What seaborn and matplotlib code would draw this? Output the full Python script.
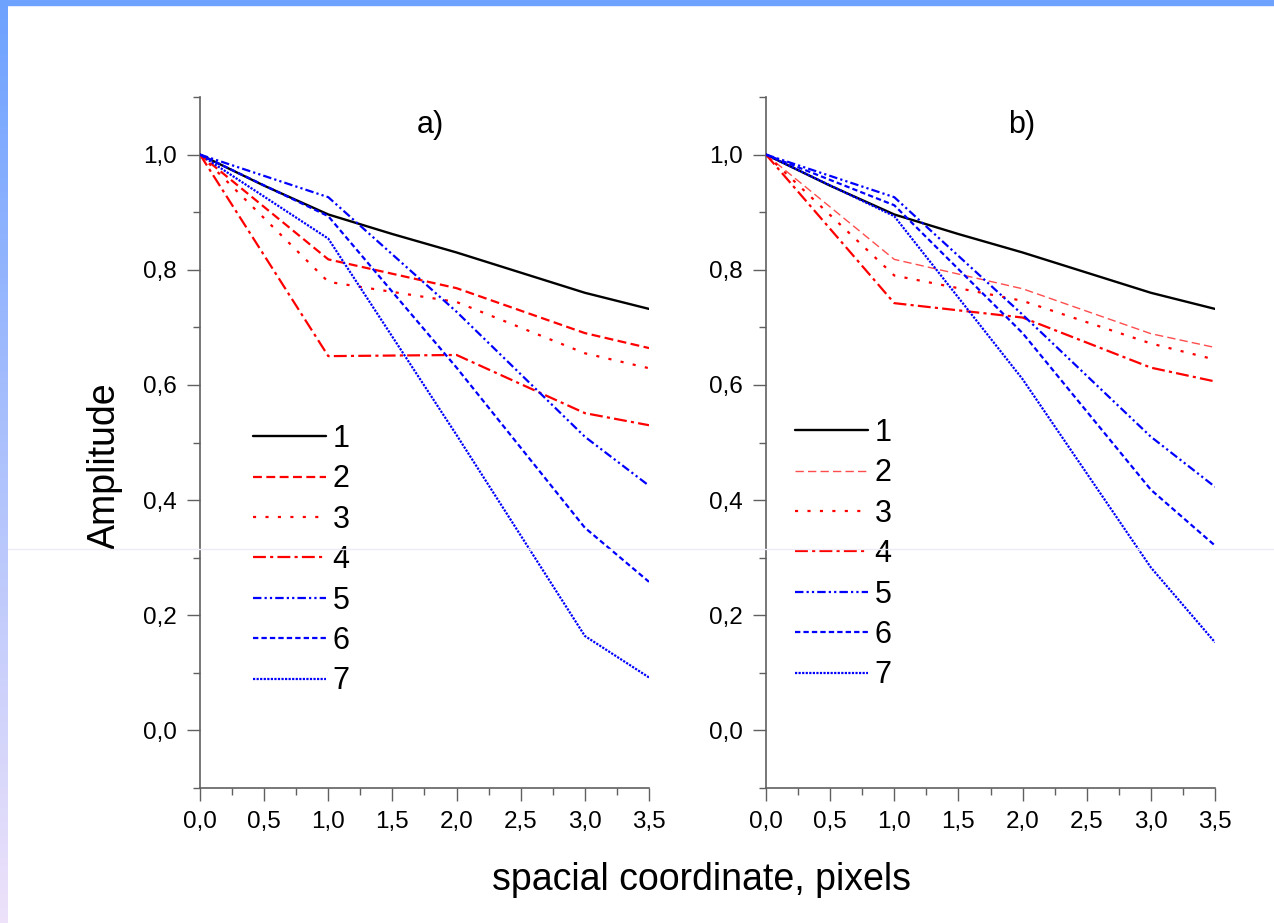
import numpy as np
import pandas as pd
import matplotlib
matplotlib.use("Agg")
import matplotlib.pyplot as plt
from matplotlib.lines import Line2D
from matplotlib.ticker import FixedLocator
import seaborn as sns

# ---------------- data ----------------
x_ref = [0.0, 0.5, 1.0, 1.5, 2.0, 2.5, 3.0, 3.5]
y_ref = [1.0, 0.946, 0.896, 0.862, 0.830, 0.795, 0.760, 0.732]

x_pts = [0.0, 1.0, 2.0, 3.0, 3.5]

a_c2 = [1.0, 0.818, 0.768, 0.690, 0.664]
a_c3 = [1.0, 0.779, 0.744, 0.655, 0.629]
a_c4 = [1.0, 0.650, 0.652, 0.551, 0.530]
a_c5 = [1.0, 0.926, 0.727, 0.510, 0.425]
a_c6 = [1.0, 0.893, 0.630, 0.352, 0.258]
a_c7 = [1.0, 0.854, 0.513, 0.164, 0.092]

b_c2 = [1.0, 0.818, 0.767, 0.689, 0.665]
b_c3 = [1.0, 0.790, 0.746, 0.672, 0.644]
b_c4 = [1.0, 0.742, 0.717, 0.630, 0.606]
b_c5 = [1.0, 0.926, 0.722, 0.510, 0.423]
b_c6 = [1.0, 0.912, 0.690, 0.418, 0.321]
b_c7 = [1.0, 0.893, 0.610, 0.283, 0.153]

curve_labels = ["1", "2", "3", "4", "5", "6", "7"]
panel_titles = ["a)", "b)"]
x_ticks = [0.0, 0.5, 1.0, 1.5, 2.0, 2.5, 3.0, 3.5]
x_tick_labels = ["0,0", "0,5", "1,0", "1,5", "2,0", "2,5", "3,0", "3,5"]
y_ticks = [0.0, 0.2, 0.4, 0.6, 0.8, 1.0]
y_tick_labels = ["0,0", "0,2", "0,4", "0,6", "0,8", "1,0"]
x_label = "spacial coordinate, pixels"
y_label = "Amplitude"

# ---------------- style ----------------
sns.set_theme(style="white")
plt.rcParams["font.family"] = ["Liberation Sans", "DejaVu Sans"]
plt.rcParams["text.color"] = "black"

W, H = 1274, 923
fig = plt.figure(figsize=(W / 100, H / 100), dpi=100)
fig.patch.set_facecolor("white")

# decorative slide border: top bar + left gradient bar
top_bar = plt.Rectangle((0, 1 - 5 / H), 1, 5 / H, transform=fig.transFigure,
                        color="#6ea2ff", zorder=0)
fig.add_artist(top_bar)
gax = fig.add_axes([0, 0, 8 / W, 1 - 5 / H])
c_top = np.array([110, 162, 255]) / 255
c_bot = np.array([238, 226, 250]) / 255
t = np.linspace(0, 1, 256)[:, None]
grad = (c_top[None, :] * (1 - t) + c_bot[None, :] * t)[:, None, :]
gax.imshow(grad, aspect="auto", extent=[0, 1, 1, 0])
gax.set_axis_off()

axis_color = "#606060"

styles = [
    dict(color="black", lw=1.7, ls="-"),
    dict(color="#ff0000", lw=1.6, ls=(0, (4, 2))),
    dict(color="#ff0000", lw=1.6, ls=(0, (1.4, 4.2))),
    dict(color="#ff0000", lw=1.6, ls=(0, (5.8, 1.9, 1.4, 1.9))),
    dict(color="#0000ff", lw=1.6, ls=(0, (3.8, 1.4, 1, 1.4, 1, 1.4))),
    dict(color="#0000ff", lw=1.6, ls=(0, (2.4, 1.4))),
    dict(color="#0000ff", lw=1.6, ls=(0, (1, 0.6))),
]
styles_b = [dict(s) for s in styles]
styles_b[1] = dict(color="#ff4d4d", lw=1.0, ls=(0, (6, 3)))

panels = [
    ([a_c2, a_c3, a_c4, a_c5, a_c6, a_c7], styles, 200, (255, 438)),
    ([b_c2, b_c3, b_c4, b_c5, b_c6, b_c7], styles_b, 766, (797, 432)),
]

ax_w = 449 / W
ax_h = (788 - 97) / H
ax_b = 1 - 788 / H

for pi, (series, sty, left_px, leg_px) in enumerate(panels):
    ax = fig.add_axes([left_px / W, ax_b, ax_w, ax_h])
    ax.set_facecolor("none")
    # curve 1
    df = pd.DataFrame({"x": x_ref, "y": y_ref})
    s = sty[0]
    sns.lineplot(data=df, x="x", y="y", ax=ax, color=s["color"], lw=s["lw"],
                 linestyle=s["ls"], label=curve_labels[0], estimator=None)
    for k, ys in enumerate(series):
        s = sty[k + 1]
        df = pd.DataFrame({"x": x_pts, "y": ys})
        sns.lineplot(data=df, x="x", y="y", ax=ax, color=s["color"], lw=s["lw"],
                     linestyle=s["ls"], label=curve_labels[k + 1], estimator=None)

    ax.set_xlim(0, 3.5)
    ax.set_ylim(-0.1, 1.1)
    ax.set_xlabel("")
    ax.set_ylabel("")
    for side in ["top", "right"]:
        ax.spines[side].set_visible(False)
    for side in ["left", "bottom"]:
        ax.spines[side].set_color(axis_color)
        ax.spines[side].set_linewidth(1.2)
        ax.spines[side].set_zorder(0.5)
    ax.set_xticks(x_ticks)
    ax.set_xticklabels(x_tick_labels)
    ax.set_yticks(y_ticks)
    ax.set_yticklabels(y_tick_labels)
    ax.xaxis.set_minor_locator(FixedLocator(np.arange(0.25, 3.5, 0.5)))
    ax.yaxis.set_minor_locator(FixedLocator(np.arange(-0.1, 1.15, 0.2)))
    ax.tick_params(axis="both", which="major", direction="out", length=9.5,
                   width=1.0, color=axis_color, labelsize=17.5, labelcolor="black",
                   bottom=True, left=True)
    ax.tick_params(axis="y", which="major", pad=7)
    ax.tick_params(axis="x", which="major", pad=7)
    ax.tick_params(axis="both", which="minor", direction="out", length=5,
                   width=1.0, color=axis_color, bottom=True, left=True)
    ax.grid(False)

    ax.text((430 - left_px if pi == 0 else 1022 - left_px) / 449, (788 - 125) / 691,
            panel_titles[pi], transform=ax.transAxes, ha="center", va="center",
            fontsize=22, color="black")

    # legend
    lx, ly = leg_px
    leg = ax.legend(loc="upper left",
                    bbox_to_anchor=((lx - left_px - 2) / 449, (788 - ly + 14) / 691),
                    frameon=False, fontsize=22, handlelength=2.4,
                    handletextpad=0.2, labelspacing=0.34, borderpad=0,
                    borderaxespad=0)
    for txt in leg.get_texts():
        txt.set_color("black")

fig.text(702 / W, 1 - 880 / H, x_label, ha="center", va="center", fontsize=27,
         color="black")
fig.text(105 / W, 1 - 466 / H, y_label, ha="center", va="center", fontsize=27,
         rotation=90, color="black")

# faint scan line across the slide
fig.add_artist(Line2D([8 / W, 1], [1 - 549 / H, 1 - 549 / H],
                      transform=fig.transFigure, color="#ececf6", lw=1, zorder=10))

fig.savefig("out.png", dpi=100)
